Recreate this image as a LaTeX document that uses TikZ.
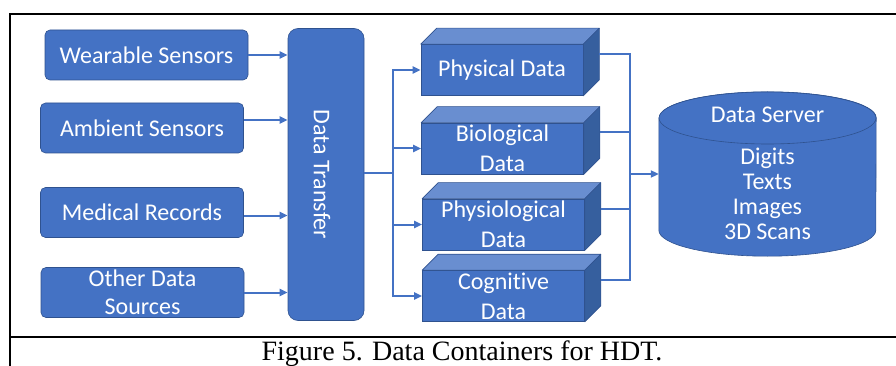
\documentclass[tikz,border=0pt]{standalone}
\usepackage{fontspec}
\setmainfont{Carlito}[Ligatures=NoCommon]
\newfontfamily\capfont{Liberation Serif}
\usetikzlibrary{arrows.meta}

\definecolor{boxfill}{HTML}{4472C4}
\definecolor{boxline}{HTML}{2F528F}
\definecolor{boxtop}{HTML}{698ED0}
\definecolor{boxside}{HTML}{365F9E}

\tikzset{source/.style={draw=boxline,fill=boxfill,rounded corners=5pt,text=white,font=\fontsize{24}{28}\selectfont,minimum width=203pt,minimum height=50pt,align=center,inner sep=0pt,line width=0.6pt},
transfer box/.style={draw=boxline,fill=boxfill,rounded corners=10pt,minimum width=76pt,minimum height=292pt,inner sep=0pt,line width=0.6pt},
rotated label/.style={rotate=-90,text=white,font=\fontsize{24}{28}\selectfont,inner sep=0pt},
container/.style={draw=boxline,fill=boxfill,text=white,font=\fontsize{24}{30}\selectfont,minimum width=162pt,minimum height=51pt,align=center,inner sep=0pt,line width=0.6pt},
cube top/.style={draw=boxline,fill=boxtop,line width=0.6pt,line join=round},
cube side/.style={draw=boxline,fill=boxside,line width=0.6pt,line join=round},
server label/.style={text=white,font=\fontsize{24}{25}\selectfont,align=center,inner sep=0pt},
link/.style={draw=boxfill,line width=2pt},
arrow/.style={link,-{Triangle[length=8pt,width=7pt]}},
frame/.style={line width=2pt}}

\begin{document}
\begin{tikzpicture}[x=1pt,y=-1pt]
\useasboundingbox (0,0) rectangle (896,366);

%% frame and caption
\draw [frame] (10,366) -- (10,14) -- (897,14);
\draw [frame] (10,337) -- (897,337);
\node [anchor=base,inner sep=0pt,font=\capfont\fontsize{28}{30}\selectfont] (caption) at (462,360) {Figure 5. Data Containers for HDT.};

%% sources
\node [source] (wearable) at (146.5,55) {Wearable Sensors};
\node [source] (ambient) at (142,128) {Ambient Sensors};
\node [source] (medical) at (142,212.5) {Medical Records};
\node [source,text depth=0pt] (other) at (142.5,292.5) {Other Data\\Sources};

%% data transfer
\node [transfer box] (transfer) at (326,174.5) {};
\node [rotated label] (transfer label) at (322,174.5) {Data Transfer};

%% data containers (front faces)
\node [container] (physical) at (502,70) {Physical Data};
\node [container] (biological) at (502.5,148.5) {Biological\\Data};
\node [container] (physiological) at (503.5,224.5) {Physiological\\Data};
\node [container] (cognitive) at (503.5,296) {Cognitive\\Data};

%% top faces
\draw [cube top] (physical.north west) -- ++(16,-16) -- ([shift={(16,-16)}]physical.north east) -- (physical.north east) -- cycle;
\draw [cube top] (biological.north west) -- ++(16,-16) -- ([shift={(16,-16)}]biological.north east) -- (biological.north east) -- cycle;
\draw [cube top] (physiological.north west) -- ++(16,-16) -- ([shift={(16,-16)}]physiological.north east) -- (physiological.north east) -- cycle;
\draw [cube top] (cognitive.north west) -- ++(16,-16) -- ([shift={(16,-16)}]cognitive.north east) -- (cognitive.north east) -- cycle;

%% side faces
\draw [cube side] (physical.north east) -- ++(16,-16) -- ([shift={(16,-16)}]physical.south east) -- (physical.south east) -- cycle;
\draw [cube side] (biological.north east) -- ++(16,-16) -- ([shift={(16,-16)}]biological.south east) -- (biological.south east) -- cycle;
\draw [cube side] (physiological.north east) -- ++(16,-16) -- ([shift={(16,-16)}]physiological.south east) -- (physiological.south east) -- cycle;
\draw [cube side] (cognitive.north east) -- ++(16,-16) -- ([shift={(16,-16)}]cognitive.south east) -- (cognitive.south east) -- cycle;

%% data server
\node [minimum width=217pt,minimum height=164pt,inner sep=0pt] (server) at (767.5,174) {};
\coordinate (server top) at (767.5,118);
\filldraw [draw=boxline,fill=boxfill,line width=0.6pt] ([yshift=-26]server.north west) -- ([yshift=26]server.south west) arc [start angle=180,end angle=0,x radius=108.5,y radius=26] -- ([yshift=-26]server.north east) arc [start angle=0,end angle=-180,x radius=108.5,y radius=26] -- cycle;
\filldraw [draw=boxline,fill=boxfill,line width=0.6pt] (server top) ellipse [x radius=108.5,y radius=26];
\node [server label] (server name) at (767.5,115) {Data Server};
\node [server label] (server items) at (767.5,194) {Digits\\Texts\\Images\\3D Scans};

%% sources to data transfer
\draw [arrow] (wearable.east) -- (wearable.east -| transfer.west);
\draw [arrow] ([yshift=8]ambient.east) -- ([yshift=8]ambient.east -| transfer.west);
\draw [arrow] ([yshift=-3]medical.east) -- ([yshift=-3]medical.east -| transfer.west);
\draw [arrow] (other.east) -- (other.east -| transfer.west);

%% data transfer to containers
\coordinate (split) at (393,173);
\draw [link] (split -| transfer.east) -- (split);
\draw [link,line cap=rect] (split |- physical) -- (split |- cognitive);
\draw [arrow] (split |- physical) -- (physical.west);
\draw [arrow] (split |- biological) -- (biological.west);
\draw [arrow] (split |- physiological) -- (physiological.west);
\draw [arrow] (split |- cognitive) -- (cognitive.west);

%% containers to data server
\coordinate (merge) at (630,174);
\coordinate (physical out) at ([shift={(16,-16)}]physical.east);
\coordinate (biological out) at ([shift={(16,-16)}]biological.east);
\coordinate (physiological out) at ([shift={(16,-16)}]physiological.east);
\coordinate (cognitive out) at ([shift={(16,-16)}]cognitive.east);
\draw [link] (physical out) -- (physical out -| merge);
\draw [link] (biological out) -- (biological out -| merge);
\draw [link] (physiological out) -- (physiological out -| merge);
\draw [link] (cognitive out) -- (cognitive out -| merge);
\draw [link,line cap=rect] (physical out -| merge) -- (cognitive out -| merge);
\draw [arrow] (merge) -- (merge -| server.west);

\end{tikzpicture}
\end{document}
